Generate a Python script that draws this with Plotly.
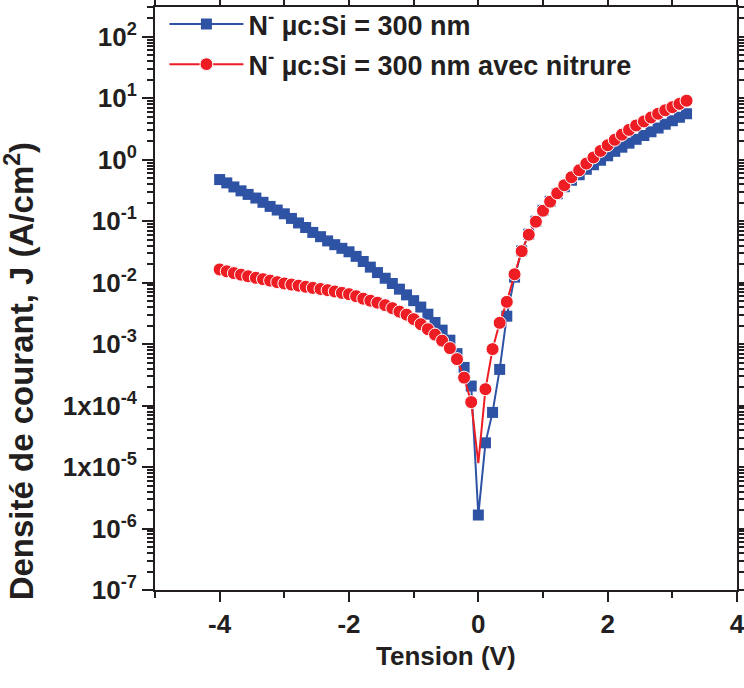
import plotly.graph_objects as go

# Voltage sweep (V)
tension = [-4.00, -3.89, -3.78, -3.67, -3.56, -3.44, -3.33, -3.22, -3.11, -3.00,
           -2.89, -2.78, -2.67, -2.56, -2.44, -2.33, -2.22, -2.11, -2.00, -1.89,
           -1.78, -1.67, -1.56, -1.44, -1.33, -1.22, -1.11, -1.00, -0.89, -0.78,
           -0.67, -0.56, -0.44, -0.33, -0.22, -0.11, 0.00,
           0.11, 0.22, 0.33, 0.44, 0.56, 0.67, 0.78, 0.89, 1.00,
           1.11, 1.22, 1.33, 1.44, 1.56, 1.67, 1.78, 1.89, 2.00,
           2.11, 2.22, 2.33, 2.44, 2.56, 2.67, 2.78, 2.89, 3.00, 3.11, 3.22]

# N- uc:Si = 300 nm  (A/cm2)
j_300nm = [0.476, 0.420, 0.361, 0.312, 0.273, 0.238, 0.203, 0.174, 0.152, 0.132,
           0.111, 0.0938, 0.0790, 0.0657, 0.0560, 0.0478, 0.0415, 0.0362, 0.0318, 0.0268,
           0.0221, 0.0179, 0.0146, 0.0118, 0.00970, 0.00784, 0.00633, 0.00510, 0.00401, 0.00307,
           0.00225, 0.00169, 0.00116, 0.000701, 0.000418, 0.000208, 1.66e-6,
           2.48e-5, 7.75e-5, 3.88e-4, 2.85e-3, 0.0123, 0.0330, 0.0615, 0.100, 0.151,
           0.211, 0.280, 0.364, 0.464, 0.570, 0.700, 0.829, 0.981, 1.16,
           1.37, 1.60, 1.86, 2.15, 2.48, 2.85, 3.28, 3.78, 4.31, 4.91, 5.60]

# N- uc:Si = 300 nm avec nitrure (A/cm2)
j_300nm_nitrure = [0.0164, 0.0153, 0.0143, 0.0135, 0.0127, 0.0120, 0.0114, 0.0108, 0.0102, 0.00971,
                   0.00931, 0.00894, 0.00858, 0.00823, 0.00790, 0.00755, 0.00719, 0.00683, 0.00650, 0.00603,
                   0.00549, 0.00510, 0.00473, 0.00431, 0.00385, 0.00338, 0.00302, 0.00255, 0.00211, 0.00175,
                   0.00143, 0.00114, 0.000861, 0.000570, 0.000285, 0.000114, 1.16e-5,
                   1.85e-4, 8.29e-4, 2.22e-3, 4.87e-3, 0.0137, 0.0325, 0.0603, 0.0982, 0.148,
                   0.208, 0.285, 0.385, 0.519, 0.675, 0.867, 1.09, 1.39, 1.72,
                   2.11, 2.56, 3.06, 3.61, 4.20, 4.87, 5.60, 6.38, 7.17, 8.11, 9.14]

x_ticks = [-4, -2, 0, 2, 4]
x_ticktext = ["-4", "-2", "0", "2", "4"]
x_minor_ticks = [-5, -3, -1, 1, 3]
y_tickvals = [1e-7, 1e-6, 1e-5, 1e-4, 1e-3, 1e-2, 1e-1, 1e0, 1e1, 1e2]
y_ticktext = ["10<sup>-7</sup>", "10<sup>-6</sup>", "1x10<sup>-5</sup>", "1x10<sup>-4</sup>",
              "10<sup>-3</sup>", "10<sup>-2</sup>", "10<sup>-1</sup>", "10<sup>0</sup>",
              "10<sup>1</sup>", "10<sup>2</sup>"]

names = ["N<sup>-</sup> µc:Si = 300 nm", "N<sup>-</sup> µc:Si = 300 nm avec nitrure"]

BLUE = "#2E52A4"
RED = "#EE1D24"
INK = "#231F20"
FONT = "Liberation Sans, Arial, sans-serif"

red_sizes = [0 if v == 0 else 13 for v in tension]

fig = go.Figure()
fig.add_trace(go.Scatter(
    x=tension, y=j_300nm, name=names[0], mode="lines+markers",
    line=dict(color=BLUE, width=2),
    marker=dict(symbol="square", size=11, color=BLUE, opacity=1),
    legendgroup="a",
))
fig.add_trace(go.Scatter(
    x=tension, y=j_300nm_nitrure, name=names[1], mode="lines+markers",
    line=dict(color=RED, width=2),
    marker=dict(symbol="circle", size=red_sizes, color=RED, opacity=1),
    legendgroup="b",
))

axis_common = dict(
    showline=True, linewidth=2, linecolor=INK, mirror="ticks",
    ticks="outside", tickwidth=2, tickcolor=INK,
    showgrid=False, zeroline=False, automargin=False,
    ticklabeloverflow="allow",
    tickfont=dict(family=FONT, size=26, color=INK, weight="bold"),
)

fig.update_layout(
    width=744, height=688,
    margin=dict(l=155, r=7, t=7, b=98, autoexpand=False),
    paper_bgcolor="white", plot_bgcolor="white",
    font=dict(family=FONT, size=26, color=INK, weight="bold"),
    showlegend=True,
    legend=dict(
        xref="container", yref="container",
        x=0.221, y=1.0, xanchor="left", yanchor="top",
        bgcolor="rgba(0,0,0,0)", borderwidth=0,
        font=dict(family=FONT, size=27, color=INK, weight="bold"),
        itemwidth=74, tracegroupgap=2, traceorder="grouped",
    ),
    xaxis=dict(
        range=[-5, 4], tickvals=x_ticks, ticktext=x_ticktext, ticklen=10,
        ticklabelstandoff=0,
        minor=dict(tickvals=x_minor_ticks, ticks="outside", ticklen=6, tickwidth=2, tickcolor=INK),
        **axis_common,
    ),
    yaxis=dict(
        type="log", range=[-7, 2.485], tickvals=y_tickvals, ticktext=y_ticktext, ticklen=11,
        minor=dict(dtick="D1", ticks="outside", ticklen=6, tickwidth=1.5, tickcolor=INK),
        **axis_common,
    ),
    annotations=[
        dict(
            text="Densité de courant, J (A/cm<sup>2</sup>)",
            xref="paper", yref="paper", x=-0.232, y=0.375,
            xanchor="center", yanchor="middle", textangle=-90, showarrow=False,
            font=dict(family=FONT, size=33, color=INK, weight="bold"),
        ),
        dict(
            text="Tension (V)",
            xref="paper", yref="paper", x=0.5, y=-0.1135,
            xanchor="center", yanchor="middle", showarrow=False,
            font=dict(family=FONT, size=26, color=INK, weight="bold"),
        ),
    ],
)

fig.write_html("out.html", config={"displayModeBar": False},
               post_script="document.body.style.margin='0px';")
